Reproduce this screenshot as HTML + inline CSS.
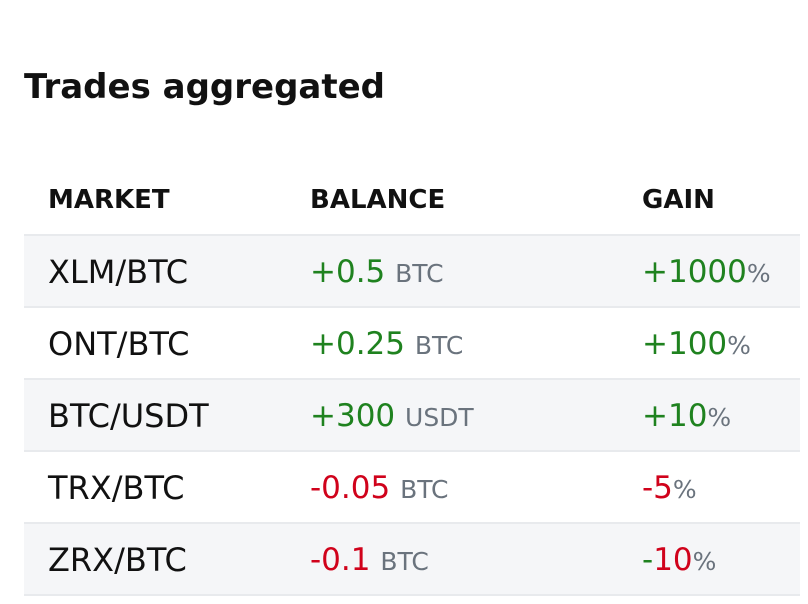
<!DOCTYPE html>
<html><head><meta charset="utf-8"><style>
body{margin:0;width:808px;height:604px;background:#fff;font-family:"DejaVu Sans","Liberation Sans",sans-serif;color:#111;position:relative;overflow:hidden}
h1{position:absolute;left:24px;top:63px;margin:0;font-size:34px;font-weight:bold;line-height:48px}
.row{position:absolute;left:24px;width:776px;height:70px;border-bottom:2px solid #e8eaed}
.g{background:#f5f6f8}
.c{position:absolute;top:0;height:70px;line-height:72px;font-size:31px;white-space:nowrap}
.c1{font-size:32px}
.h .c{font-size:26px;font-weight:bold}
.c1{left:24px}.c2{left:286px}.c3{left:618px}
.pos{color:#1f821f}.neg{color:#d0021b}
.u{color:#6a737d;font-size:25px}
</style></head><body>
<h1>Trades aggregated</h1>
<div class="row h" style="top:164px">
<span class="c c1">MARKET</span>
<span class="c c2">BALANCE</span>
<span class="c c3">GAIN</span></div>
<div class="row g" style="top:236px">
<span class="c c1">XLM/BTC</span>
<span class="c c2"><span class="pos">+0.5</span> <span class="u">BTC</span></span>
<span class="c c3"><span class="pos">+1000</span><span class="u">%</span></span></div>
<div class="row" style="top:308px">
<span class="c c1">ONT/BTC</span>
<span class="c c2"><span class="pos">+0.25</span> <span class="u">BTC</span></span>
<span class="c c3"><span class="pos">+100</span><span class="u">%</span></span></div>
<div class="row g" style="top:380px">
<span class="c c1">BTC/USDT</span>
<span class="c c2"><span class="pos">+300</span> <span class="u">USDT</span></span>
<span class="c c3"><span class="pos">+10</span><span class="u">%</span></span></div>
<div class="row" style="top:452px">
<span class="c c1">TRX/BTC</span>
<span class="c c2"><span class="neg">-0.05</span> <span class="u">BTC</span></span>
<span class="c c3"><span class="neg">-5</span><span class="u">%</span></span></div>
<div class="row g" style="top:524px">
<span class="c c1">ZRX/BTC</span>
<span class="c c2"><span class="neg">-0.1</span> <span class="u">BTC</span></span>
<span class="c c3"><span class="pos">-</span><span class="neg">10</span><span class="u">%</span></span></div>
</body></html>
